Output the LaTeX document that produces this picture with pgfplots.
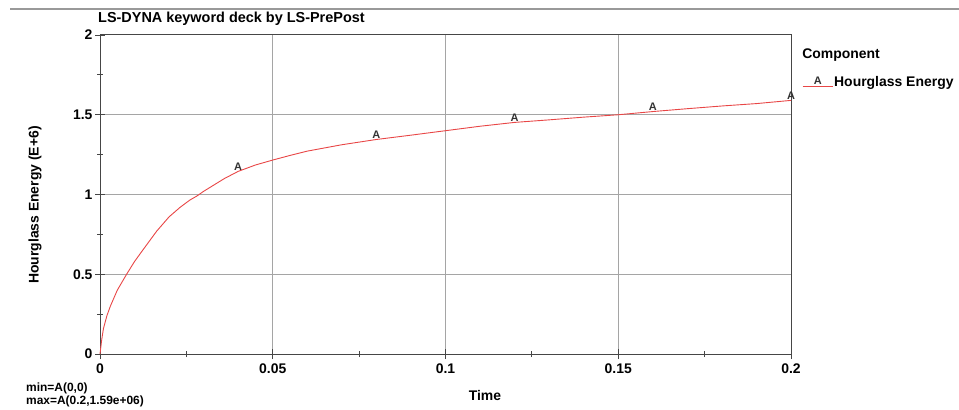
\documentclass[border=0pt]{standalone}
\usepackage{pgfplots}
\pgfplotsset{compat=1.18}
\usepackage{fontspec}
\setmainfont{Liberation Sans}
\definecolor{curvered}{RGB}{232,70,70}
\definecolor{gridgray}{RGB}{165,165,165}
\definecolor{axisgray}{RGB}{70,70,70}
\newcommand{\fs}[1]{\fontsize{#1}{#1}\selectfont\bfseries}
\begin{document}
\begin{tikzpicture}[x=1bp,y=1bp]
\path[use as bounding box] (0,0) rectangle (959,409);
\draw[gray!80, line width=2bp] (10,400) -- (959,400);
\begin{axis}[
  at={(100bp,55bp)}, anchor=origin,
  width=691bp, height=319bp, scale only axis,
  xmin=0, xmax=0.2, ymin=0, ymax=2,
  clip=false,
  axis line style={axisgray, line width=1bp},
  xtick={0,0.05,0.1,0.15,0.2},
  xticklabels={0,0.05,0.1,0.15,0.2},
  ytick={0,0.5,1,1.5,2},
  yticklabels={0,0.5,1,1.5,2},
  minor x tick num=1, minor y tick num=1,
  xtick pos=left, ytick pos=left,
  tick align=center,
  major tick length=10bp, minor tick length=6bp,
  tick style={axisgray, line width=0.9bp},
  grid=major,
  major grid style={gridgray, line width=1bp},
  /pgf/number format/assume math mode=true,
  ticklabel style={font=\fs{14}},
  xticklabel style={yshift=-1bp},
  yticklabel style={xshift=1bp},
  title={LS-DYNA keyword deck by LS-PrePost},
  title style={at={(axis description cs:0,1)}, anchor=south west, font=\fs{14.5}, inner sep=0pt, yshift=3bp, xshift=-2bp},
  xlabel={Time},
  xlabel style={at={(axis description cs:0.557,-0.129)}, anchor=center, font=\fs{14}},
  ylabel={Hourglass Energy (E+6)},
  ylabel style={at={(axis description cs:-0.094,0.467)}, anchor=center, font=\fs{14}},
  legend style={draw=none, fill=none, at={(axis description cs:1.016,0.853)}, anchor=west, inner sep=0pt, font=\fs{14}, nodes={inner sep=1bp}},
  legend image code/.code={
    \draw[curvered, line width=0.9bp] (0bp,-5bp) -- (30bp,-5bp);
    \node[font=\fs{11}, inner sep=0pt, anchor=base, text=black!80] at (15bp,-3bp) {A};
  },
]
\addplot[curvered, line width=0.9bp] coordinates {
(0,0) (0.0005,0.09) (0.001,0.16) (0.002,0.24) (0.003,0.30) (0.005,0.40)
(0.0077,0.50) (0.010,0.58) (0.012,0.64) (0.0164,0.77) (0.020,0.86)
(0.0232,0.92) (0.026,0.965) (0.028,0.99) (0.030,1.02) (0.033,1.06)
(0.036,1.10) (0.040,1.145)
(0.045,1.185) (0.050,1.216) (0.055,1.245) (0.060,1.272) (0.070,1.312)
(0.080,1.345) (0.090,1.372) (0.100,1.400) (0.110,1.428) (0.120,1.452)
(0.130,1.468) (0.140,1.485) (0.150,1.500) (0.160,1.520) (0.170,1.538)
(0.180,1.555) (0.190,1.570) (0.200,1.590)
};
\addlegendentry{Hourglass Energy}
\addplot[draw=none, mark=none, forget plot, nodes near coords={A},
  every node near coord/.append style={font=\fs{11}, anchor=south, inner sep=0.5bp, text=black!80}]
  coordinates {(0.04,1.145) (0.08,1.345) (0.12,1.452) (0.16,1.52) (0.2,1.59)};
\node[anchor=west, font=\fs{14}, inner sep=0pt] at (axis description cs:1.016,0.937) {Component};
\end{axis}
\node[anchor=west, font=\fs{12}, inner sep=0pt] at (26,21) {min=A(0,0)};
\node[anchor=west, font=\fs{12}, inner sep=0pt] at (26,8) {max=A(0.2,1.59e+06)};
\end{tikzpicture}
\end{document}
